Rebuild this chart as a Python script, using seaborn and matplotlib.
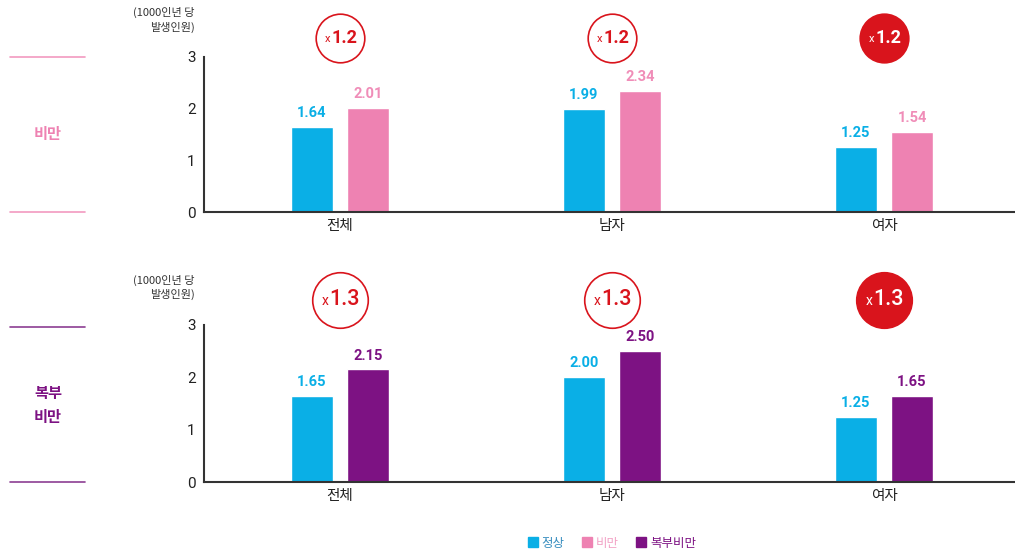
import numpy as np
import pandas as pd
import matplotlib
matplotlib.use("Agg")
import matplotlib.pyplot as plt
from matplotlib.patches import Patch
from matplotlib.lines import Line2D
import seaborn as sns

# ---- data ----
groups = ["전체", "남자", "여자"]
normal_top = [1.64, 1.99, 1.25]
obese_top = [2.01, 2.34, 1.54]
normal_bot = [1.65, 2.00, 1.25]
abdominal_bot = [2.15, 2.50, 1.65]
ratio_top = ["1.2", "1.2", "1.2"]
ratio_bot = ["1.3", "1.3", "1.3"]
yticks = [0, 1, 2, 3]
ylabel_text = "(1000인년 당\n발생인원)"

BLUE = "#0AAFE6"
PINK = "#EE82B2"
PURPLE = "#7D1283"
RED = "#D9141C"
AXIS = "#333333"

sns.set_style("white")
plt.rcParams["font.family"] = ["Noto Sans CJK KR", "DejaVu Sans"]

fig = plt.figure(figsize=(10.15, 5.54), dpi=100)
W, H = 1015, 554


def make_axes(y0_px, y3_px):
    left = 204 / W
    width = 816 / W
    bottom = 1 - y0_px / H
    height = (y0_px - y3_px) / H
    return fig.add_axes([left, bottom, width, height])


def draw_panel(ax, base_vals, cmp_vals, cmp_name, cmp_color, ratios, label_color,
               badge_y, circle_ms, big_fs, big_weight, x_fs, x_off):
    df = pd.DataFrame({
        "group": groups * 2,
        "kind": ["정상"] * 3 + [cmp_name] * 3,
        "value": list(base_vals) + list(cmp_vals),
    })
    sns.barplot(data=df, x="group", y="value", hue="kind", order=groups,
                hue_order=["정상", cmp_name], palette=[BLUE, cmp_color],
                width=0.412, gap=0.25, saturation=1, legend=False, ax=ax,
                errorbar=None)
    ax.set_xlim(-0.5, 2.5)
    ax.set_ylim(0, 3)
    ax.set_yticks(yticks)
    ax.set_xlabel("")
    ax.set_ylabel("")
    sns.despine(ax=ax, top=True, right=True)
    for s in ("left", "bottom"):
        ax.spines[s].set_color(AXIS)
        ax.spines[s].set_linewidth(1.5)
    ax.spines["left"].set_bounds(0, 3)
    ax.tick_params(axis="y", direction="in", length=6, width=1.4, color=AXIS,
                   labelsize=11, labelcolor="#222222", pad=6)
    for t in ax.get_yticklabels():
        t.set_family(["Roboto", "DejaVu Sans"])
    ax.tick_params(axis="x", which="major", length=0, labelsize=10.5,
                   labelcolor="#222222", pad=5)
    ax.set_xticks([0.5, 1.5], minor=True)
    ax.tick_params(axis="x", which="minor", direction="in", length=5,
                   width=1.2, color=AXIS)

    # value labels above bars
    lab_colors = [BLUE, label_color]
    for container, col in zip(ax.containers, lab_colors):
        ax.bar_label(container, labels=[f"{v:.2f}" for v in container.datavalues],
                     padding=5, color=col, fontsize=10.5, fontweight="bold",
                     family=["Roboto", "DejaVu Sans"])

    # ratio badges
    for i, r in enumerate(ratios):
        filled = i == 2
        ax.plot([i], [badge_y], marker="o", markersize=circle_ms,
                mfc=RED if filled else "white", mec=RED, mew=1.2,
                clip_on=False, zorder=5)
        tcol = "white" if filled else RED
        ax.annotate("x", (i, badge_y), xytext=(x_off, -0.5), textcoords="offset points",
                    ha="right", va="center", fontsize=x_fs,
                    color=tcol, zorder=6, annotation_clip=False,
                    family=["Roboto", "DejaVu Sans"])
        ax.annotate(r, (i, badge_y), xytext=(3, 0), textcoords="offset points",
                    ha="center", va="center", fontsize=big_fs, fontweight=big_weight,
                    color=tcol, zorder=6, annotation_clip=False,
                    family=["Roboto", "DejaVu Sans"])

    ax.text(-0.535, 3.47, ylabel_text, ha="right", va="bottom", fontsize=8,
            color="#333333", linespacing=1.35, clip_on=False)


ax_top = make_axes(212, 57)
draw_panel(ax_top, normal_top, obese_top, "비만", PINK, ratio_top, "#F08DB8",
           badge_y=3.37, circle_ms=35, big_fs=13, big_weight="bold",
           x_fs=8, x_off=-7)

ax_bot = make_axes(482, 325)
draw_panel(ax_bot, normal_bot, abdominal_bot, "복부비만", PURPLE, ratio_bot, PURPLE,
           badge_y=3.48, circle_ms=40, big_fs=15.5, big_weight="medium",
           x_fs=10, x_off=-8)

# side labels with rules
for y_px in (57, 212):
    fig.add_artist(Line2D([10 / W, 85 / W], [1 - y_px / H] * 2, color="#F29AC0", lw=1.2))
fig.text(48 / W, 1 - 134 / H, "비만", ha="center", va="center", fontsize=11,
         fontweight="bold", color=PINK)

for y_px in (327, 482):
    fig.add_artist(Line2D([10 / W, 85 / W], [1 - y_px / H] * 2, color="#8C3E92", lw=1.2))
fig.text(48 / W, 1 - 405 / H, "복부\n비만", ha="center", va="center", fontsize=11,
         fontweight="bold", color=PURPLE, linespacing=1.6)

# legend
handles = [Patch(color=BLUE), Patch(color=PINK), Patch(color=PURPLE)]
leg = fig.legend(handles, ["정상", "비만", "복부비만"], loc="center",
                 bbox_to_anchor=(612 / W, 1 - 543 / H), ncol=3, frameon=False,
                 fontsize=9, handlelength=0.8, handleheight=0.8,
                 handletextpad=0.3, columnspacing=1.4)
for t, c in zip(leg.get_texts(), ["#3A8FC0", "#F2A3C6", PURPLE]):
    t.set_color(c)

fig.savefig("out.png", dpi=100, facecolor="white")
